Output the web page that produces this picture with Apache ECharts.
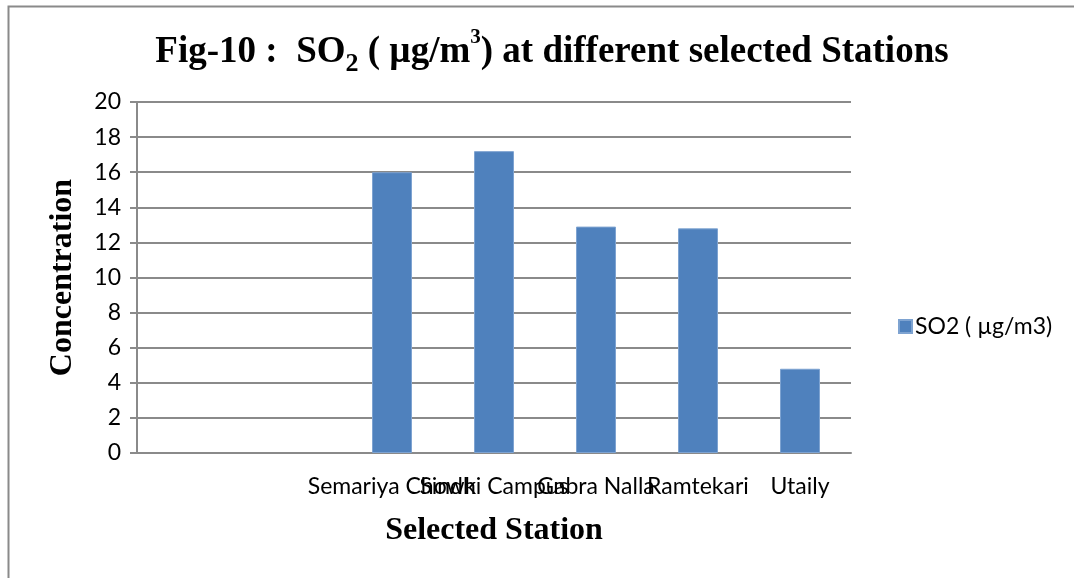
<!DOCTYPE html>
<html>
<head>
<meta charset="utf-8">
<script src="https://cdn.jsdelivr.net/npm/echarts@6/dist/echarts.min.js"></script>
<style>html,body{margin:0;padding:0;background:#fff}#c{width:1074px;height:578px}</style>
</head>
<body>
<div id="c"></div>
<script>
const categories = ['', '', 'Semariya Chowk', 'Sindhi Campus', 'Gabra Nalla', 'Ramtekari', 'Utaily'];
const so2Values = [null, null, 16.0, 17.2, 12.9, 12.8, 4.8];
const seriesName = 'SO2 ( µg/m3)';
const yTicks = { min: 0, max: 20, interval: 2 };

const chart = echarts.init(document.getElementById('c'), null, { renderer: 'canvas' });
chart.setOption({
  animation: false,
  backgroundColor: '#fff',
  graphic: [{
    type: 'rect', left: 6, top: 4, silent: true,
    shape: { x: 0, y: 0, width: 1100, height: 600 },
    style: { fill: 'none', stroke: '#8a8a8a', lineWidth: 2 }
  }],
  title: {
    text: '{m|Fig-10 :  SO}{sub|2}{m| ( µg/m}{sup|3}{m|) at different selected Stations}',
    left: 547, textAlign: 'center', top: 22,
    textStyle: {
      rich: {
        m: { fontFamily: 'Liberation Serif', fontWeight: 'bold', fontSize: 37, color: '#000', lineHeight: 50 },
        sub: { fontFamily: 'Liberation Serif', fontWeight: 'bold', fontSize: 26, color: '#000', lineHeight: 20, verticalAlign: 'bottom' },
        sup: { fontFamily: 'Liberation Serif', fontWeight: 'bold', fontSize: 21, color: '#000', lineHeight: 42, verticalAlign: 'top' }
      }
    }
  },
  legend: {
    data: [seriesName], left: 893, top: 310, orient: 'vertical',
    itemWidth: 13, itemHeight: 13, itemGap: 6,
    icon: 'rect',
    textStyle: { fontFamily: 'Lato', fontSize: 23, color: '#000', padding: [0,0,0,-2] }
  },
  grid: { left: 137, right: 223, top: 102, bottom: 125 },
  xAxis: {
    type: 'category', data: categories,
    name: 'Selected Station', nameLocation: 'middle', nameGap: 62,
    nameTextStyle: { fontFamily: 'Liberation Serif', fontWeight: 'bold', fontSize: 32, color: '#000' },
    axisLine: { lineStyle: { color: '#8a8a8a', width: 2 } },
    axisTick: { show: false },
    axisLabel: { interval: 0, fontFamily: 'Lato', fontSize: 23, color: '#000', margin: 22, hideOverlap: false }
  },
  yAxis: {
    type: 'value', min: yTicks.min, max: yTicks.max, interval: yTicks.interval,
    name: 'Concentration', nameLocation: 'middle', nameGap: 58, nameRotate: 90,
    nameTextStyle: { fontFamily: 'Liberation Serif', fontWeight: 'bold', fontSize: 32, color: '#000' },
    axisLine: { show: true, lineStyle: { color: '#8a8a8a', width: 2 } },
    axisTick: { show: true, inside: false, length: 7, lineStyle: { color: '#8a8a8a', width: 2 } },
    splitLine: { lineStyle: { color: '#8a8a8a', width: 2 } },
    axisLabel: { fontFamily: 'Lato', fontSize: 23, color: '#000', margin: 16 }
  },
  series: [{
    name: seriesName, type: 'bar', data: so2Values, barWidth: 40,
    itemStyle: { color: '#4F81BD', borderColor: '#7ea3d1', borderWidth: 1 }
  }]
});
</script>
</body>
</html>
